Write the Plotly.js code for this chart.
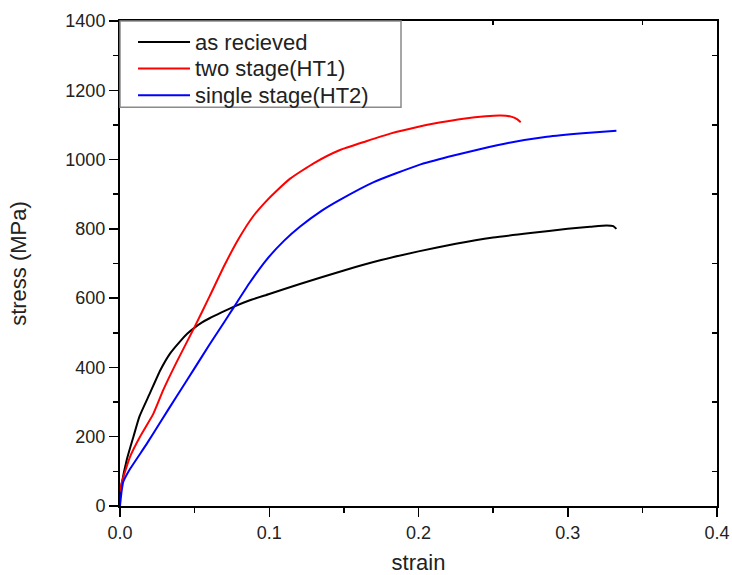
<!DOCTYPE html>
<html>
<head>
<meta charset="utf-8">
<script src="https://cdn.plot.ly/plotly-3.0.1.min.js"></script>
<style>html,body{margin:0;padding:0;background:#fff;}#chart{width:732px;height:575px;}</style>
</head>
<body>
<div id="chart"></div>
<script>
// as recieved
var asRecStrain = [0, 0.001, 0.0045, 0.009, 0.013, 0.02, 0.027, 0.0335, 0.04, 0.045, 0.05, 0.055, 0.06, 0.068, 0.076, 0.087, 0.1, 0.12, 0.15, 0.175, 0.2, 0.225, 0.25, 0.275, 0.3, 0.315, 0.326, 0.3305, 0.3326];
var asRecStress = [25, 60, 133, 200, 258, 325, 392, 440, 474, 497, 515, 530, 542, 559, 575, 594, 612, 640, 680, 710, 735, 757, 775, 788, 800, 806, 810, 808, 800];
// two stage (HT1)
var ht1Strain = [0, 0.001, 0.0067, 0.0134, 0.0223, 0.029, 0.038, 0.05, 0.06, 0.07, 0.08, 0.089, 0.098, 0.105, 0.114, 0.13, 0.147, 0.165, 0.181, 0.2, 0.214, 0.23, 0.245, 0.255, 0.262, 0.266, 0.2685];
var ht1Stress = [40, 65, 142, 200, 266, 335, 416, 517, 605, 695, 775, 835, 880, 910, 945, 990, 1027, 1053, 1075, 1095, 1107, 1118, 1125, 1127, 1124, 1117, 1108];
// single stage (HT2)
var ht2Strain = [0, 0.001, 0.0022, 0.006, 0.018, 0.027, 0.038, 0.05, 0.06, 0.07, 0.076, 0.087, 0.098, 0.11, 0.1205, 0.135, 0.147, 0.17, 0.2, 0.22, 0.241, 0.26, 0.286, 0.31, 0.3326];
var ht2Stress = [0, 40, 70, 102, 180, 242, 317, 398, 466, 532, 572, 645, 710, 766, 806, 852, 883, 935, 984, 1008, 1030, 1048, 1066, 1076, 1083];

var seriesNames = ['as recieved', 'two stage(HT1)', 'single stage(HT2)'];
var seriesColors = ['#000000', '#ff0000', '#0000ff'];

var xMajor = [0, 0.1, 0.2, 0.3, 0.4];
var xMajorText = ['0.0', '0.1', '0.2', '0.3', '0.4'];
var xMinor = [0.05, 0.15, 0.25, 0.35];
var yMajor = [0, 200, 400, 600, 800, 1000, 1200, 1400];
var yMinor = [100, 300, 500, 700, 900, 1100, 1300];

var FONT = 'Arial, "Liberation Sans", sans-serif';

var xs = [asRecStrain, ht1Strain, ht2Strain];
var ys = [asRecStress, ht1Stress, ht2Stress];
var traces = [];
for (var i = 0; i < 3; i++) {
  traces.push({x: xs[i], y: ys[i], name: seriesNames[i], type: 'scatter', mode: 'lines',
    line: {color: seriesColors[i], width: 2, shape: 'spline', smoothing: 0.5}, showlegend: false});
}
traces.push({x: [], y: [], xaxis: 'x2', yaxis: 'y2', showlegend: false, hoverinfo: 'skip', type: 'scatter', mode: 'lines'});

// manual legend box (paper coordinates)
var legX0 = 0, legX1 = 0.4707, legY0 = 0.822, legY1 = 1;
var legLineX0 = 0.0302, legLineX1 = 0.1173, legTextX = 0.1225;
var legRows = [0.9567, 0.9019, 0.8469];
var shapes = [{type: 'rect', xref: 'paper', yref: 'paper', x0: legX0, x1: legX1, y0: legY0, y1: legY1,
  line: {color: '#8a8a8a', width: 1.5}, fillcolor: '#ffffff', layer: 'above'}];
var annotations = [];
for (var j = 0; j < 3; j++) {
  shapes.push({type: 'line', xref: 'paper', yref: 'paper', x0: legLineX0, x1: legLineX1, y0: legRows[j], y1: legRows[j],
    line: {color: seriesColors[j], width: 2}, layer: 'above'});
  annotations.push({xref: 'paper', yref: 'paper', x: legTextX, y: legRows[j], xanchor: 'left', yanchor: 'middle',
    text: seriesNames[j], showarrow: false, font: {family: FONT, size: 22, color: '#222'}});
}

var layout = {
  width: 732, height: 575,
  margin: {l: 120, r: 15, t: 21, b: 69},
  paper_bgcolor: '#ffffff', plot_bgcolor: '#ffffff',
  font: {family: FONT, color: '#000'},
  showlegend: false,
  shapes: shapes,
  annotations: annotations,
  xaxis: {
    range: [0, 0.4], tickvals: xMajor, ticktext: xMajorText,
    ticks: 'outside', ticklen: 9, tickwidth: 1.5, tickcolor: '#000',
    minor: {tickvals: xMinor, ticks: 'outside', ticklen: 5, tickwidth: 1.5, tickcolor: '#000'},
    showline: true, linecolor: '#000', linewidth: 2, mirror: true,
    showgrid: false, zeroline: false,
    tickfont: {family: FONT, size: 18, color: '#222'},
    title: {text: 'strain', font: {family: FONT, size: 22, color: '#222'}}
  },
  yaxis: {
    range: [0, 1400], tickvals: yMajor,
    ticks: 'outside', ticklen: 9, tickwidth: 1.5, tickcolor: '#000',
    minor: {tickvals: yMinor, ticks: 'outside', ticklen: 5, tickwidth: 1.5, tickcolor: '#000'},
    showline: true, linecolor: '#000', linewidth: 2, mirror: true,
    showgrid: false, zeroline: false,
    tickfont: {family: FONT, size: 18, color: '#222'},
    title: {text: 'stress (MPa)', standoff: 33, font: {family: FONT, size: 22, color: '#222'}}
  },
  xaxis2: {
    overlaying: 'x', side: 'top', range: [0, 0.4], tickvals: xMinor,
    ticks: 'inside', ticklen: 4, tickwidth: 1.5, tickcolor: '#000',
    showticklabels: false, showline: false, showgrid: false, zeroline: false
  },
  yaxis2: {
    overlaying: 'y', side: 'right', range: [0, 1400], tickvals: yMinor,
    ticks: 'inside', ticklen: 5, tickwidth: 1.5, tickcolor: '#000',
    showticklabels: false, showline: false, showgrid: false, zeroline: false
  }
};

Plotly.newPlot('chart', traces, layout, {displayModeBar: false, staticPlot: true});
</script>
</body>
</html>
